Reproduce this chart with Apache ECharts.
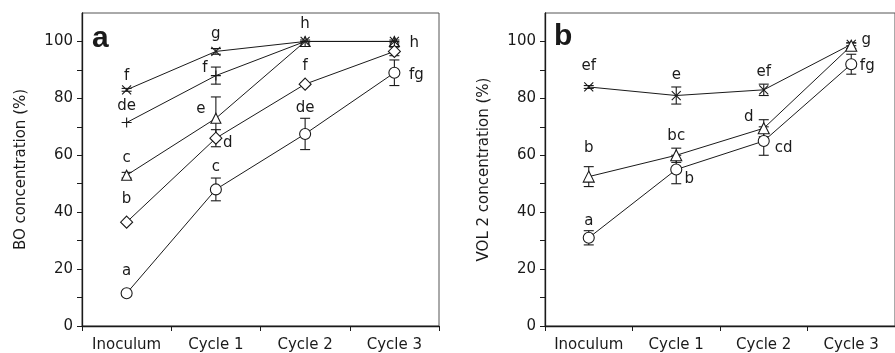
<!DOCTYPE html>
<html>
<head>
<meta charset="utf-8">
<style>
    html, body { margin: 0; padding: 0; background: #fff; }
    #chart { width: 895px; height: 353px; }
</style>
</head>
<body>
<div id="chart"></div>
<script src="https://cdn.jsdelivr.net/npm/echarts@6/dist/echarts.min.js"></script>
<script>
// categories and ticks
var cats = ['Inoculum', 'Cycle 1', 'Cycle 2', 'Cycle 3'];
var yTicks = [0, 10, 20, 30, 40, 50, 60, 70, 80, 90, 100];
var yLabels = [0, 20, 40, 60, 80, 100];

// panel a - BO concentration (mean / error / letters)
var aCross = [83, 96.5, 100, 100];
var aCrossErr = [0.5, 1, 0.5, 0.5];
var aCrossTxt = ['f', 'g', 'h', 'h'];
var aPlus = [71.5, 88, 100, 100];
var aPlusErr = [0, 3, 0, 0];
var aPlusTxt = ['de', 'f', '', ''];
var aTri = [53, 73, 100, 100];
var aTriErr = [1, 7.5, 0, 0];
var aTriTxt = ['c', 'e', '', ''];
var aDia = [36.5, 66, 85, 96.5];
var aDiaErr = [0, 3, 0.5, 1.5];
var aDiaTxt = ['b', 'd', 'f', ''];
var aCirc = [11.5, 48, 67.5, 89];
var aCircErr = [0, 4, 5.5, 4.5];
var aCircTxt = ['a', 'c', 'de', 'fg'];

// panel b - VOL 2 concentration
var bCross = [84, 81, 83, 99];
var bCrossErr = [0.5, 3, 2, 0.5];
var bCrossTxt = ['ef', 'e', 'ef', 'g'];
var bTri = [52.5, 60, 69.5, 98.5];
var bTriErr = [3.5, 2.5, 3, 1];
var bTriTxt = ['b', 'bc', 'd', ''];
var bCirc = [31, 55, 65, 92];
var bCircErr = [2.5, 5, 5, 3.5];
var bCircTxt = ['a', 'b', 'cd', 'fg'];

var FONT = '"DejaVu Sans", sans-serif';
var INK = '#1a1a1a';

var SYM_X = 'path://M0,0L10,10M10,0L0,10';
var SYM_PLUS = 'path://M5,0L5,10M0,5L10,5';

function yAxis(idx, name) {
    return {
        type: 'value', gridIndex: idx, min: 0, max: 110, interval: 10,
        name: name, nameLocation: 'middle', nameGap: 53,
        nameTextStyle: { fontFamily: FONT, fontSize: 15, color: INK },
        axisLine: { show: true, lineStyle: { color: INK, width: 1.3 } },
        axisTick: { show: true, length: 5, customValues: yTicks, lineStyle: { color: INK } },
        axisLabel: { customValues: yLabels, fontFamily: FONT, fontSize: 15, color: INK, margin: 9 },
        splitLine: { show: false }
    };
}
function xAxis(idx) {
    return {
        type: 'category', gridIndex: idx, data: cats, boundaryGap: true,
        axisLine: { lineStyle: { color: INK, width: 1.3 } },
        axisTick: { show: true, length: 5, lineStyle: { color: INK } },
        axisLabel: { fontFamily: FONT, fontSize: 15, color: INK, margin: 12, interval: 0 }
    };
}

// offs: label offset [dx, dy] from the marker, one per point
function lineSeries(idx, vals, txt, symbol, size, offs, z) {
    return {
        type: 'line', xAxisIndex: idx, yAxisIndex: idx,
        data: vals.map(function (v, i) {
            return {
                value: v,
                label: { show: !!txt[i], formatter: txt[i], position: 'inside', offset: offs[i] }
            };
        }),
        symbol: symbol, symbolSize: size, showAllSymbol: true,
        lineStyle: { color: INK, width: 1 },
        itemStyle: { color: (symbol.indexOf('path') === 0) ? 'rgba(0,0,0,0)' : '#fff', borderColor: INK, borderWidth: 1.1 },
        label: { fontFamily: FONT, fontSize: 15, color: INK, align: 'center', verticalAlign: 'middle' },
        z: z, animation: false, silent: true
    };
}

function errRender(params, api) {
    var e = api.value(2);
    if (!e) return;
    var x = api.value(0), m = api.value(1);
    var hi = api.coord([x, m + e]), lo = api.coord([x, m - e]);
    var w = 5, st = { stroke: INK, lineWidth: 1.1 };
    return {
        type: 'group', children: [
            { type: 'line', shape: { x1: hi[0], y1: hi[1], x2: lo[0], y2: lo[1] }, style: st },
            { type: 'line', shape: { x1: hi[0] - w, y1: hi[1], x2: hi[0] + w, y2: hi[1] }, style: st },
            { type: 'line', shape: { x1: lo[0] - w, y1: lo[1], x2: lo[0] + w, y2: lo[1] }, style: st }
        ]
    };
}
function errSeries(idx, vals, errs) {
    return {
        type: 'custom', xAxisIndex: idx, yAxisIndex: idx,
        data: vals.map(function (v, i) { return [i, v, errs[i]]; }),
        encode: { x: 0, y: 1 },
        renderItem: errRender, z: 1, silent: true, animation: false
    };
}

var option = {
    animation: false,
    backgroundColor: '#fff',
    textStyle: { fontFamily: FONT },
    grid: [
        { left: 82, top: 13, width: 357, height: 313, show: true, borderColor: '#555', borderWidth: 1 },
        { left: 545, top: 13, width: 358, height: 313, show: true, borderColor: '#555', borderWidth: 1 }
    ],
    xAxis: [xAxis(0), xAxis(1)],
    yAxis: [yAxis(0, 'BO concentration (%)'), yAxis(1, 'VOL 2 concentration (%)')],
    graphic: [
        { type: 'text', left: 92, top: 24, style: { text: 'a', font: 'bold 30px "Liberation Sans", Arial, sans-serif', fill: INK } },
        { type: 'text', left: 554, top: 22, style: { text: 'b', font: 'bold 30px "Liberation Sans", Arial, sans-serif', fill: INK } }
    ],
    series: [
        errSeries(0, aCirc, aCircErr),
        errSeries(0, aDia, aDiaErr),
        errSeries(0, aTri, aTriErr),
        errSeries(0, aPlus, aPlusErr),
        errSeries(0, aCross, aCrossErr),
        lineSeries(0, aTri, aTriTxt, 'triangle', 10, [[0, -17], [-15, -9], [0, 0], [0, 0]], 2),
        lineSeries(0, aCirc, aCircTxt, 'circle', 11, [[0, -22], [0, -22], [0, -26], [22, 2]], 5),
        lineSeries(0, aDia, aDiaTxt, 'diamond', 12, [[0, -23], [12, 5], [0, -18], [0, 0]], 4),
        lineSeries(0, aPlus, aPlusTxt, SYM_PLUS, 10, [[0, -16], [-11, -7], [0, 0], [0, 0]], 3),
        lineSeries(0, aCross, aCrossTxt, SYM_X, 9, [[0, -14], [0, -17], [0, -17], [20, 2]], 3),

        errSeries(1, bCirc, bCircErr),
        errSeries(1, bTri, bTriErr),
        errSeries(1, bCross, bCrossErr),
        lineSeries(1, bCirc, bCircTxt, 'circle', 11, [[0, -17], [13, 10], [20, 7], [16, 2]], 5),
        lineSeries(1, bTri, bTriTxt, 'triangle', 11, [[0, -29], [0, -19], [-15, -11], [0, 0]], 4),
        lineSeries(1, bCross, bCrossTxt, SYM_X, 9, [[0, -21], [0, -20], [0, -18], [15, -4]], 3)
    ]
};

var chart = echarts.init(document.getElementById('chart'));
chart.setOption(option);
</script>
</body>
</html>
